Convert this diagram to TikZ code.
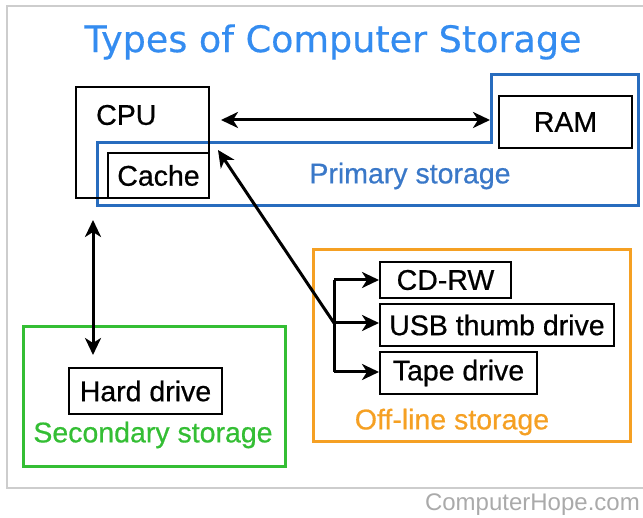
\documentclass[tikz,border=0pt]{standalone}
\usepackage{fontspec}
\setmainfont{Liberation Sans}
\newfontface\lblface{Liberation Sans}[FakeBold=0.6]
\newfontface\titleface{DejaVu Sans}[FakeBold=0.4]
\usetikzlibrary{arrows.meta}
\definecolor{titleblue}{RGB}{52,140,240}
\definecolor{primblue}{RGB}{40,108,190}
\definecolor{primtext}{RGB}{58,120,200}
\definecolor{secgreen}{RGB}{52,190,52}
\definecolor{offorange}{RGB}{245,160,35}
\definecolor{framegray}{RGB}{205,205,205}
\definecolor{markgray}{RGB}{170,170,170}
\tikzset{
  box/.style={draw=black, line width=2pt, inner sep=0pt, anchor=north west},
  lbl/.style={font=\lblface\fontsize{28.5}{30}\selectfont, inner sep=0pt},
  conn/.style={line width=3pt, -{Stealth[length=17pt,width=16pt,inset=5pt]}},
  dconn/.style={line width=3pt, {Stealth[length=17pt,width=16pt,inset=5pt]}-{Stealth[length=17pt,width=16pt,inset=5pt]}},
  plain/.style={line width=3pt}
}
\begin{document}
\begin{tikzpicture}[x=1pt,y=-1pt]
\useasboundingbox (0,0) rectangle (643,518);
% outer frame
\draw[framegray, line width=2pt] (643,6) -- (7,6) -- (7,488) -- (643,488);
% title
\node[font=\titleface\fontsize{36.5}{38}\selectfont, text=titleblue, inner sep=0pt] (title) at (333,42) {Types of Computer Storage};
% primary storage outline
\draw[primblue, line width=3pt] (97,143) -- (491,143) -- (491,75) -- (638,75) -- (638,206) -- (97,206) -- cycle;
\node[lbl, text=primtext] (primlbl) at (410,176) {Primary storage};
% CPU and cache
\node[box, minimum width=133pt, minimum height=111pt] (cpu) at (75,86) {};
\node[lbl, anchor=west] (cputxt) at (96,115) {CPU};
\node[box, minimum width=101pt, minimum height=45pt] (cache) at (107,152) {};
\node[lbl] (cachetxt) at (cache.center) {Cache};
% RAM
\node[box, minimum width=133pt, minimum height=52pt] (ram) at (498,95) {};
\node[lbl] (ramtxt) at (ram.center) {RAM};
% secondary storage
\draw[secgreen, line width=3pt] (23,327) rectangle (285,467);
\node[box, minimum width=153pt, minimum height=46pt] (hd) at (68,367) {};
\node[lbl] (hdtxt) at (hd.center) {Hard drive};
\node[lbl, text=secgreen] (seclbl) at (153,435) {Secondary storage};
% off-line storage
\draw[offorange, line width=3pt] (313,250) rectangle (630,442);
\node[box, minimum width=131pt, minimum height=36pt] (cd) at (379,261) {};
\node[lbl] (cdtxt) at (cd.center) {CD-RW};
\node[box, minimum width=234pt, minimum height=42pt] (usb) at (379,303) {};
\node[lbl] (usbtxt) at (usb.center) {USB thumb drive};
\node[box, minimum width=157pt, minimum height=42pt] (tape) at (379,351) {};
\node[lbl] (tapetxt) at (tape.center) {Tape drive};
\node[lbl, text=offorange] (offlbl) at (452,422) {Off-line storage};
% connectors
\coordinate (cpuR) at (221,120);
\coordinate (ramL) at (490,120);
\draw[dconn] (cpuR) -- (ramL);
\coordinate (cpuB) at (93,220);
\coordinate (hdT) at (93,355);
\draw[dconn] (cpuB) -- (hdT);
\coordinate (br1) at (334,280);
\coordinate (br2) at (334,323);
\coordinate (br3) at (334,372);
\coordinate (cacheTip) at (218,150);
\draw[plain] (br1) -- (br3);
\draw[conn] (br1) -- (cd.west |- br1);
\draw[conn] (br2) -- (usb.west |- br2);
\draw[conn] (br3) -- (tape.west |- br3);
\draw[conn] (br2) -- (cacheTip);
% watermark
\node[font=\fontsize{24}{26}\selectfont, text=markgray, anchor=east, inner sep=0pt] (mark) at (640,505) {ComputerHope.com};
\end{tikzpicture}
\end{document}
